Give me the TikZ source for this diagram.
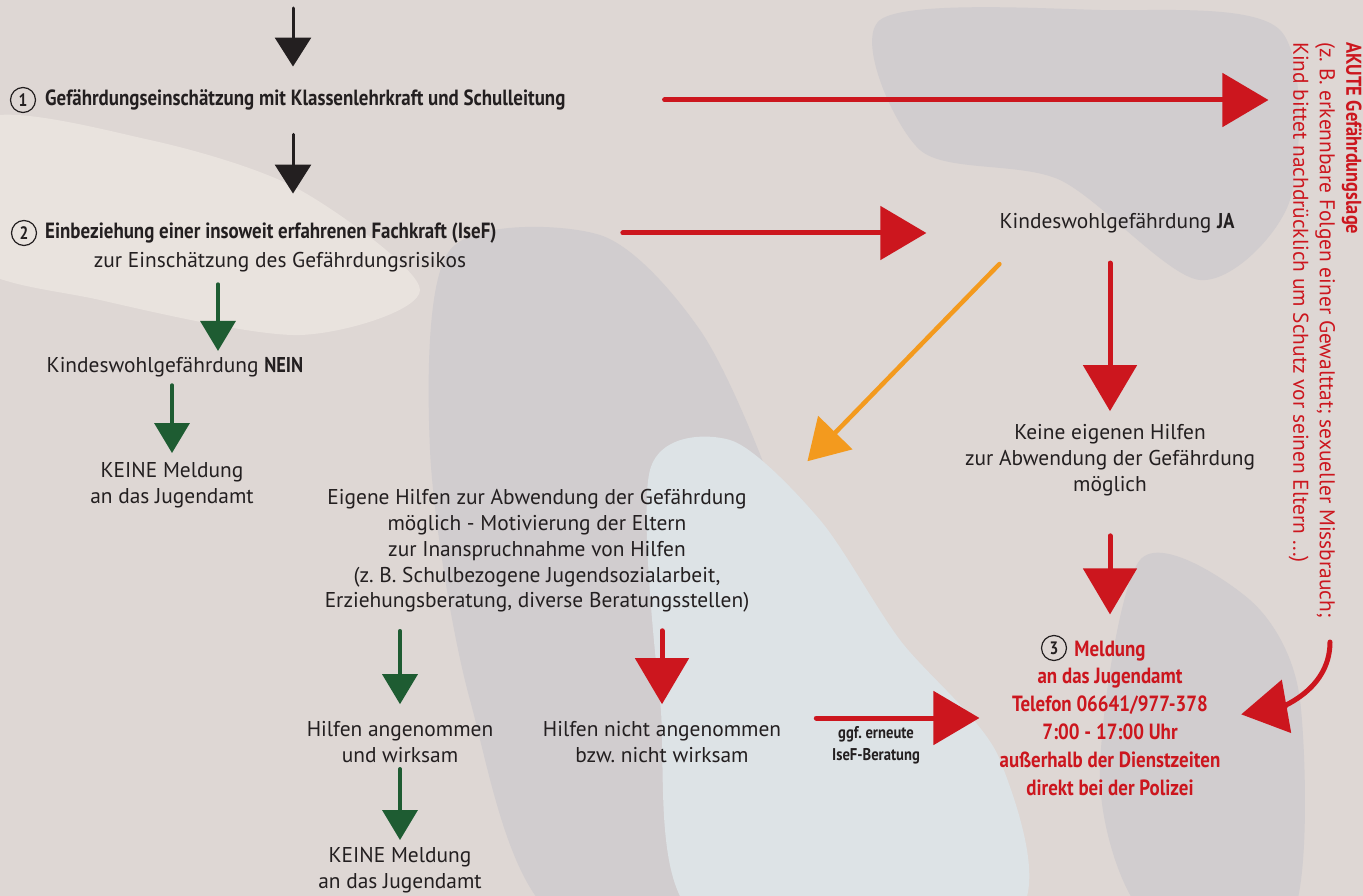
\documentclass[tikz,border=0pt]{standalone}
\usepackage{fontspec}
\setmainfont{PT Sans}
\newfontfamily\narrowfam[FakeStretch=0.86]{PT Sans}
\newcommand{\cb}{\narrowfam\bfseries}
\usetikzlibrary{arrows.meta}
\definecolor{ink}{RGB}{35,31,32}
\definecolor{alarm}{RGB}{204,22,30}
\definecolor{okgreen}{RGB}{30,92,50}
\definecolor{warn}{RGB}{243,154,30}
\definecolor{paper}{RGB}{222,215,212}
\definecolor{camogray}{RGB}{209,205,207}
\definecolor{camolight}{RGB}{233,227,222}
\definecolor{camoblue}{RGB}{221,227,230}
\frenchspacing

\begin{document}
\begin{tikzpicture}[x=1pt, y=1pt,
    txt/.style = {text=ink, align=center, inner sep=0pt, font=\fontsize{21.4}{25.8}\selectfont},
    head/.style = {text=ink, anchor=west, inner sep=0pt, font=\fontsize{22}{25}\selectfont\cb},
    alert/.style = {text=alarm, align=center, inner sep=0pt, font=\fontsize{22}{27.8}\selectfont\cb},
    num/.style = {circle, draw=ink, line width=1.2pt, minimum size=25pt, inner sep=0pt, text=ink, font=\fontsize{18}{18}\selectfont\cb},
    blkarrow/.style = {ink, line width=3pt, line cap=round, -{Triangle[length=29pt,width=36pt]}},
    grnarrow/.style = {okgreen, line width=3.5pt, line cap=round, -{Triangle[length=30pt,width=35pt]}},
    redarrow/.style = {alarm, line width=5pt, line cap=round, -{Triangle[length=46pt,width=53pt]}},
    orgarrow/.style = {warn, line width=4.5pt, line cap=round, -{Triangle[length=40pt,width=47pt]}}]
    \fill[paper] (0,0) rectangle (1363,-896);
    \useasboundingbox (0,0) rectangle (1363,-896);
    \fill[camolight] plot[smooth cycle] coordinates {(-20,-120) (150,-140) (300,-190) (420,-290) (300,-335) (100,-300) (-30,-260)};
    \fill[camogray] plot[smooth cycle] coordinates {(450,-250) (600,-235) (700,-330) (770,-480) (820,-650) (840,-920) (560,-920) (470,-700) (430,-450)};
    \fill[camoblue] plot[smooth cycle] coordinates {(650,-470) (730,-440) (820,-520) (900,-640) (1000,-760) (1010,-920) (700,-920) (660,-700)};
    \fill[camogray] plot[smooth cycle] coordinates {(880,-20) (1100,-10) (1280,-30) (1290,-200) (1200,-280) (1060,-180) (920,-150)};
    \fill[camogray] plot[smooth cycle] coordinates {(1140,-560) (1250,-600) (1300,-700) (1290,-920) (1150,-920) (1100,-780)};

    \coordinate (start) at (293,-8);
    \node[num] (n1) at (23,-100) {1};
    \node[head] (s1) at (45,-100) {Gefährdungseinschätzung mit Klassenlehrkraft und Schulleitung};
    \node[num] (n2) at (24,-233) {2};
    \node[head] (s2) at (45,-233) {Einbeziehung einer insoweit erfahrenen Fachkraft (IseF)};
    \node[txt] (s2b) at (280,-262) {zur Einschätzung des Gefährdungsrisikos};
    \node[txt] (nein) at (175,-367) {Kindeswohlgefährdung {\cb NEIN}};
    \node[txt] (kein1) at (172,-485) {KEINE Meldung\\an das Jugendamt};
    \node[txt] (eigen) at (537,-551) {Eigene Hilfen zur Abwendung der Gefährdung\\möglich - Motivierung der Eltern\\zur Inanspruchnahme von Hilfen\\(z. B. Schulbezogene Jugendsozialarbeit,\\Erziehungsberatung, diverse Beratungsstellen)};
    \node[txt] (ang) at (400,-742) {Hilfen angenommen\\und wirksam};
    \node[txt] (nicht) at (662,-742) {Hilfen nicht angenommen\\bzw. nicht wirksam};
    \node[txt] (kein2) at (400,-870) {KEINE Meldung\\an das Jugendamt};
    \node[txt] (ja) at (1117,-223) {Kindeswohlgefährdung {\cb JA}};
    \node[txt] (keine) at (1110,-460) {Keine eigenen Hilfen\\zur Abwendung der Gefährdung\\möglich};
    \node[alert] (melde) at (1110,-718) {Meldung\\an das Jugendamt\\Telefon 06641/977-378\\7:00 - 17:00 Uhr\\außerhalb der Dienstzeiten\\direkt bei der Polizei};
    \node[num] (n3) at (1054,-648) {3};
    \node[text=ink, align=center, inner sep=0pt, font=\fontsize{17}{22}\selectfont\cb] (ggf) at (876,-745) {ggf. erneute\\IseF-Beratung};
    \node[rotate=-90, anchor=north west, align=left, inner sep=0pt, text=alarm, font=\fontsize{21.4}{26.5}\selectfont] (akut) at (1362,-42) {{\cb AKUTE Gefährdungslage}\\(z. B. erkennbare Folgen einer Gewalttat; sexueller Missbrauch;\\Kind bittet nachdrücklich um Schutz vor seinen Eltern ...)};
    \coordinate (hook) at (1330,-642);

    \draw[blkarrow, shorten >=23pt] (start) -- (s1.north -| start);
    \draw[blkarrow, shorten <=24pt, shorten >=29pt] (s1.south -| start) -- (s2.north -| start);
    \draw[redarrow, shorten <=99pt, shorten >=20pt] (s1.east) -- (s1.east -| akut.south);
    \draw[redarrow, shorten <=126pt, shorten >=73pt] (s2.east) -- (s2.east -| ja.west);
    \draw[grnarrow, shorten <=12pt, shorten >=6pt] ([xshift=-62pt]s2b.south) -- ([xshift=43pt]nein.north);
    \draw[grnarrow, shorten <=8pt, shorten >=9pt] (kein1.north |- nein.south) -- (kein1.north);
    \draw[grnarrow, shorten <=18pt, shorten >=17pt] (eigen.south -| ang.north) -- (ang.north);
    \draw[grnarrow, shorten <=6pt, shorten >=7pt] (ang.south) -- (kein2.north);
    \draw[redarrow, shorten <=18pt, shorten >=17pt] (eigen.south -| nicht.north) -- (nicht.north);
    \draw[redarrow, shorten <=30pt, shorten >=13pt] (ja.south -| keine.north) -- (keine.north);
    \draw[redarrow, shorten <=40pt, shorten >=26pt] (keine.south) -- (melde.north);
    \draw[redarrow, shorten <=35pt, shorten >=20pt] (nicht.east |- melde.west) -- (melde.west);
    \draw[redarrow, shorten >=21pt] (hook) to[out=-90, in=10] (melde.east);
    \draw[orgarrow] ([yshift=-31pt]ja.south west) -- ([shift={(58pt,28pt)}]eigen.north east);
\end{tikzpicture}
\end{document}
